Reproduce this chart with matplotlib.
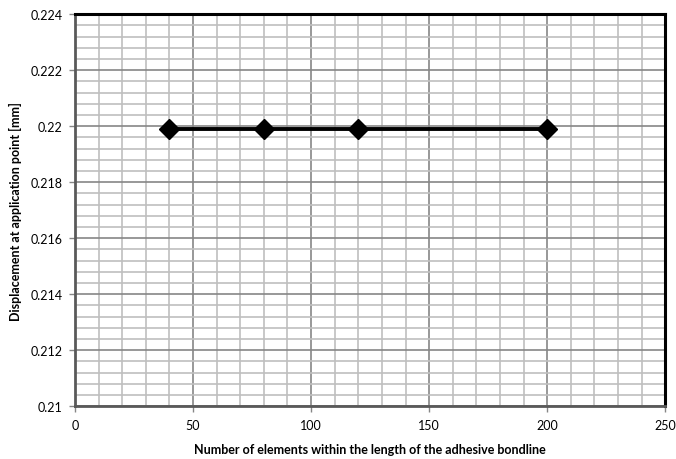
import matplotlib
matplotlib.use("Agg")
import matplotlib.pyplot as plt
from matplotlib.ticker import MultipleLocator, FuncFormatter

# data
elements = [40, 80, 120, 200]
displacement = [0.2199, 0.2199, 0.2199, 0.2199]

plt.rcParams['font.family'] = ['Lato', 'DejaVu Sans']

fig = plt.figure(figsize=(6.76, 4.60), dpi=100)
ax = fig.add_axes([0.111, 0.115, 0.873, 0.852])

ax.plot(elements, displacement, color="black", lw=2.8, marker="D",
        markersize=10, zorder=5, clip_on=False)

ax.set_xlim(0, 250)
ax.set_ylim(0.21, 0.224)
ax.xaxis.set_major_locator(MultipleLocator(50))
ax.xaxis.set_minor_locator(MultipleLocator(10))
ax.yaxis.set_major_locator(MultipleLocator(0.002))
ax.yaxis.set_minor_locator(MultipleLocator(0.0004))
ax.yaxis.set_major_formatter(FuncFormatter(lambda v, p: f"{round(v, 4):g}"))

ax.grid(which="minor", color="#bfbfbf", lw=1.2, zorder=0)
ax.grid(which="major", color="#868686", lw=1.2, zorder=1)
ax.set_axisbelow(True)

ax.tick_params(which="major", length=4, width=1, color="#868686",
               labelsize=9, pad=5)
ax.tick_params(which="minor", length=0)

for side in ["top", "right"]:
    ax.spines[side].set_color("black")
    ax.spines[side].set_linewidth(2.2)
for side in ["left", "bottom"]:
    ax.spines[side].set_color("#595959")
    ax.spines[side].set_linewidth(2.0)

ax.set_xlabel("Number of elements within the length of the adhesive bondline",
              fontsize=9, fontweight="bold", labelpad=9)
ax.set_ylabel("Displacement at application point [mm]",
              fontsize=9, fontweight="bold", labelpad=6)

fig.savefig("out.png", dpi=100)
